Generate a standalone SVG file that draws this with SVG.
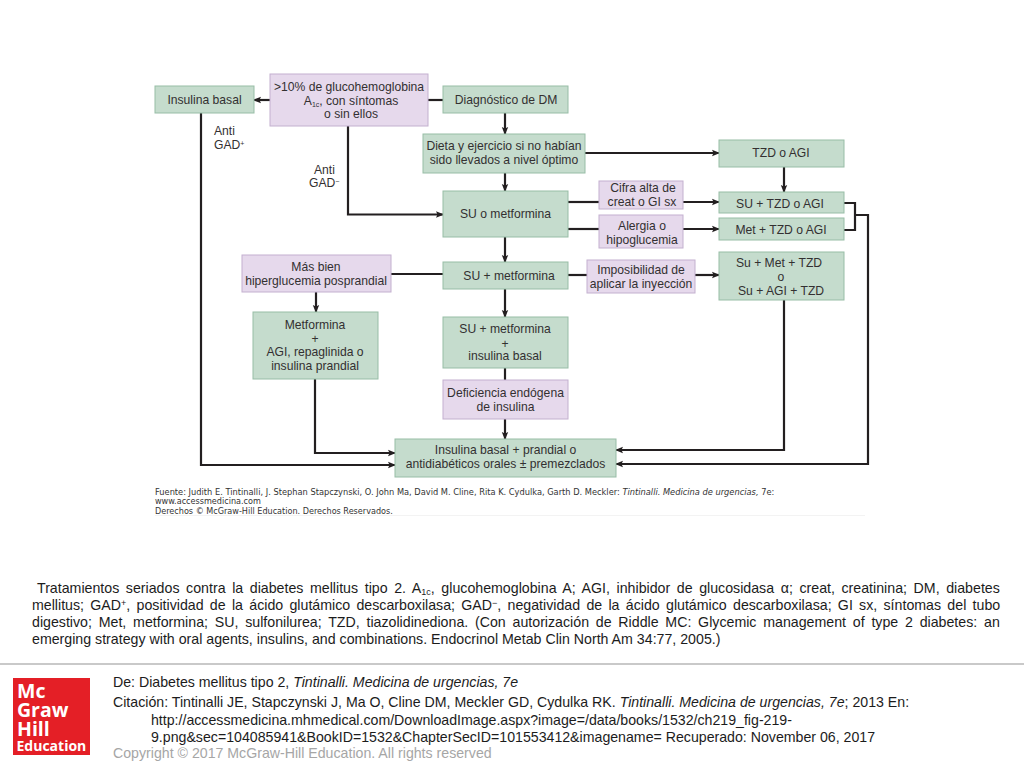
<svg xmlns="http://www.w3.org/2000/svg" width="1024" height="768" viewBox="0 0 1024 768">
<defs>
<marker id="a" viewBox="0 0 8 8" refX="7" refY="4" markerWidth="8" markerHeight="8" markerUnits="userSpaceOnUse" orient="auto"><path d="M0 0.8L8 4L0 7.2L1.5 4Z" fill="#231f20"/></marker>
</defs>
<style>
.g{fill:#c5dccd;stroke:#97bda6;stroke-width:1}
.p{fill:#e6d9ec;stroke:#c3b0cf;stroke-width:1}
.t{font-family:"Liberation Sans",Arial,sans-serif;font-size:12.15px;fill:#333031;text-anchor:middle}
.l{font-family:"Liberation Sans",Arial,sans-serif;font-size:12.15px;fill:#333031}
.c{fill:none;stroke:#231f20;stroke-width:2.2}
.ar{marker-end:url(#a)}
.b{font-family:"Liberation Sans",Arial,sans-serif;font-size:14.2px;fill:#1c1c1c}
.f{font-family:"Liberation Sans",Arial,sans-serif;font-size:14.17px;fill:#1c1c1c}
.s{font-family:"DejaVu Sans",sans-serif;font-size:8.28px;fill:#333}
.m{font-family:"Open Sans",sans-serif;font-weight:700;fill:#fff;font-size:19.5px}
</style>
<rect width="1024" height="768" fill="#fff"/>
<g id="connectors">
<path class="c ar" d="M270 100H254"/>
<path class="c" d="M428 100H443"/>
<path class="c ar" d="M505 113V134"/>
<path class="c ar" d="M505 173V191"/>
<path class="c ar" d="M348 126V214.500H443"/>
<path class="c ar" d="M505 237V262"/>
<path class="c ar" d="M505 289V317"/>
<path class="c" d="M505 368V380"/>
<path class="c ar" d="M505 419V439"/>
<path class="c" d="M391 274H443"/>
<path class="c ar" d="M316 292V312"/>
<path class="c ar" d="M315 379V453H395"/>
<path class="c ar" d="M201 113V465H395"/>
<path class="c ar" d="M585 153H719"/>
<path class="c ar" d="M784 167V192"/>
<path class="c" d="M568 202H599"/>
<path class="c ar" d="M683 202H719"/>
<path class="c" d="M568 229H599"/>
<path class="c ar" d="M683 229H719"/>
<path class="c" d="M568 275H587"/>
<path class="c ar" d="M695 275H719"/>
<path class="c" d="M844 203H855V230H844"/>
<path class="c ar" d="M855 215H868V464H616"/>
<path class="c ar" d="M784 300V450H616"/>
</g>
<g id="n-insulina-basal"><rect class="g" x="155" y="86" width="99" height="27"/><text class="t" x="204.500" y="104">Insulina basal</text></g>
<g id="n-a1c"><rect class="p" x="270" y="74" width="158" height="52"/><text class="t" x="349" y="91">&gt;10% de glucohemoglobina</text><text class="t" x="351" y="104.500">A<tspan font-size="7" dy="2">1c</tspan><tspan dy="-2">, con síntomas</tspan></text><text class="t" x="351" y="118">o sin ellos</text></g>
<g id="n-diagnostico"><rect class="g" x="443" y="86" width="125" height="27"/><text class="t" x="506" y="104">Diagnóstico de DM</text></g>
<g id="n-dieta"><rect class="g" x="423" y="134" width="162" height="39"/><text class="t" x="504" y="150">Dieta y ejercicio si no habían</text><text class="t" x="504" y="164">sido llevados a nivel óptimo</text></g>
<g id="n-su-o-met"><rect class="g" x="443" y="191" width="125" height="46"/><text class="t" x="505.500" y="218">SU o metformina</text></g>
<g id="n-mas-bien"><rect class="p" x="242" y="255" width="149" height="37"/><text class="t" x="316" y="271">Más bien</text><text class="t" x="316" y="285">hiperglucemia posprandial</text></g>
<g id="n-su-met"><rect class="g" x="443" y="262" width="125" height="27"/><text class="t" x="509" y="280">SU + metformina</text></g>
<g id="n-metformina"><rect class="g" x="253" y="312" width="125" height="67"/><text class="t" x="315" y="329">Metformina</text><text class="t" x="315" y="343">+</text><text class="t" x="315" y="356">AGI, repaglinida o</text><text class="t" x="315" y="370">insulina prandial</text></g>
<g id="n-su-met-basal"><rect class="g" x="443" y="317" width="125" height="51"/><text class="t" x="505" y="333">SU + metformina</text><text class="t" x="505" y="348">+</text><text class="t" x="505" y="360">insulina basal</text></g>
<g id="n-deficiencia"><rect class="p" x="443" y="380" width="125" height="39"/><text class="t" x="505.500" y="397">Deficiencia endógena</text><text class="t" x="505.500" y="411">de insulina</text></g>
<g id="n-prandial"><rect class="g" x="395" y="439" width="221" height="38"/><text class="t" x="505.500" y="454">Insulina basal + prandial o</text><text class="t" x="505.500" y="468">antidiabéticos orales ± premezclados</text></g>
<g id="n-tzd"><rect class="g" x="719" y="140" width="125" height="27"/><text class="t" x="781" y="157">TZD o AGI</text></g>
<g id="n-su-tzd"><rect class="g" x="719" y="192" width="125" height="21"/><text class="t" x="780" y="208">SU + TZD o AGI</text></g>
<g id="n-met-tzd"><rect class="g" x="719" y="218" width="125" height="22"/><text class="t" x="781" y="234">Met + TZD o AGI</text></g>
<g id="n-su-met-tzd"><rect class="g" x="719" y="252" width="125" height="48"/><text class="t" x="779" y="267">Su + Met + TZD</text><text class="t" x="781" y="281">o</text><text class="t" x="781" y="295">Su + AGI + TZD</text></g>
<g id="n-cifra"><rect class="p" x="599" y="181" width="84" height="28"/><text class="t" x="643" y="192">Cifra alta de</text><text class="t" x="642" y="206">creat o GI sx</text></g>
<g id="n-alergia"><rect class="p" x="599" y="215" width="84" height="33"/><text class="t" x="642" y="230">Alergia o</text><text class="t" x="642" y="244">hipoglucemia</text></g>
<g id="n-impos"><rect class="p" x="587" y="260" width="108" height="33"/><text class="t" x="641" y="274">Imposibilidad de</text><text class="t" x="641" y="288">aplicar la inyección</text></g>
<text class="l" x="214" y="135">Anti</text>
<text class="l" x="214" y="149">GAD<tspan font-size="7" dy="-3">+</tspan></text>
<text class="l" x="314" y="174">Anti</text>
<text class="l" x="309" y="187">GAD<tspan font-size="7" dy="-3">−</tspan></text>
<text class="s"><tspan x="155" y="495">Fuente: Judith E. Tintinalli, J. Stephan Stapczynski, O. John Ma, David M. Cline, Rita K. Cydulka, Garth D. Meckler: <tspan font-style="italic">Tintinalli. Medicina de urgencias,</tspan> 7e:</tspan><tspan x="155" y="504" font-size="8.1">www.accessmedicina.com</tspan><tspan x="155" y="514" font-size="8.1">Derechos © McGraw-Hill Education. Derechos Reservados.</tspan></text>
<rect x="155" y="515" width="710" height="1" fill="#f3f3f3"/>
<g id="caption" class="b">
<text x="37" y="593" word-spacing="2.660">Tratamientos seriados contra la diabetes mellitus tipo 2. A<tspan font-size="9" dy="2">1c</tspan><tspan dy="-2">, glucohemoglobina A; AGI, inhibidor de glucosidasa α; creat, creatinina; DM, diabetes</tspan></text>
<text x="32" y="610" word-spacing="2.340">mellitus; GAD<tspan font-size="9" dy="-4">+</tspan><tspan dy="4">, positividad de la ácido glutámico descarboxilasa; GAD</tspan><tspan font-size="9" dy="-4">−</tspan><tspan dy="4">, negatividad de la ácido glutámico descarboxilasa; GI sx, síntomas del tubo</tspan></text>
<text x="32" y="627" word-spacing="2.830">digestivo; Met, metformina; SU, sulfonilurea; TZD, tiazolidinediona. (Con autorización de Riddle MC: Glycemic management of type 2 diabetes: an</text>
<text x="32" y="644">emerging strategy with oral agents, insulins, and combinations. Endocrinol Metab Clin North Am 34:77, 2005.)</text>
</g>
<rect x="0" y="663" width="1024" height="2" fill="#c9c9c9"/>
<g id="logo"><rect x="13" y="678" width="77" height="77" fill="#e41f26"/>
<text class="m" x="17" y="698">Mc</text>
<text class="m" x="17" y="717">Graw</text>
<text class="m" x="17" y="736">Hill</text>
<text class="m" x="16.500" y="751" style="font-size:14px">Education</text></g>
<text class="f" x="113" y="687">De: Diabetes mellitus tipo 2, <tspan font-style="italic">Tintinalli. Medicina de urgencias, 7e</tspan></text>
<text class="f" x="113" y="707">Citación: Tintinalli JE, Stapczynski J, Ma O, Cline DM, Meckler GD, Cydulka RK. <tspan font-style="italic">Tintinalli. Medicina de urgencias, 7e</tspan>; 2013 En:</text>
<text class="f" x="151" y="725">http://accessmedicina.mhmedical.com/DownloadImage.aspx?image=/data/books/1532/ch219_fig-219-</text>
<text class="f" x="151" y="742">9.png&amp;sec=104085941&amp;BookID=1532&amp;ChapterSecID=101553412&amp;imagename= Recuperado: November 06, 2017</text>
<text class="f" x="113" y="758" style="fill:#a6a6a6">Copyright © 2017 McGraw-Hill Education. All rights reserved</text>
</svg>
